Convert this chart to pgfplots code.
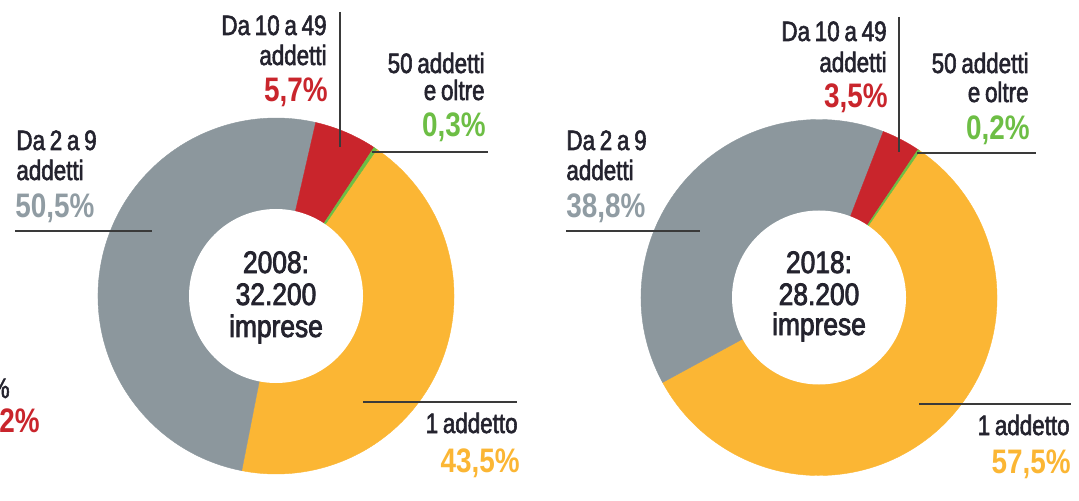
\documentclass[border=0pt]{standalone}
\usepackage{fontspec}
\setmainfont{Liberation Sans}[FakeStretch=0.82]
\newfontfamily\medfont{Liberation Sans}[FakeStretch=0.8, FakeBold=2]
\newfontfamily\ctrfont{Liberation Sans}[FakeStretch=0.85, FakeBold=2.5]
\usepackage{pgfplots}
\usepackage{pgfplotstable}
\pgfplotsset{compat=1.18}

\definecolor{cOr}{HTML}{FBB634}
\definecolor{cGr}{HTML}{8C979D}
\definecolor{cRe}{HTML}{C9252C}
\definecolor{cGn}{HTML}{6DBE45}
\definecolor{cTx}{HTML}{24232E}
\definecolor{cGt}{HTML}{909CA3}
\definecolor{cLn}{HTML}{3A3A3A}

% shares of enterprises by number of employees (percent)
\pgfplotstableread{
label value color
uno 43.5 cOr
due 50.5 cGr
dieci 5.7 cRe
cinquanta 0.3 cGn
}\dataA
\pgfplotstableread{
label value color
uno 57.5 cOr
due 38.8 cGr
dieci 3.5 cRe
cinquanta 0.2 cGn
}\dataB

\newcommand\donut[4]{% table, cx, cy, start angle
  \pgfplotsextra{%
    \coordinate (C) at (axis cs:#2,#3);
    \xdef\angA{#4}%
    \pgfplotstablegetrowsof{#1}%
    \pgfmathtruncatemacro\nlast{\pgfplotsretval-1}%
    \foreach \i in {0,...,\nlast}{%
      \pgfplotstablegetelem{\i}{value}\of{#1}\let\val\pgfplotsretval
      \pgfplotstablegetelem{\i}{color}\of{#1}\let\col\pgfplotsretval
      \pgfmathsetmacro\angB{\angA-3.6*\val}%
      \fill[fill=\col, draw=\col, line width=0.2pt] (C) -- ([shift={(\angA:89pt)}]C)
        arc[start angle=\angA, end angle=\angB, radius=89pt] -- cycle;
      \xdef\angA{\angB}%
    }%
    \fill[white] (C) circle[radius=43.5pt];
  }%
}

\newcommand\lblf{\medfont\fontsize{14}{15}\selectfont\spaceskip=0.17em\relax}
\newcommand\pctf{\bfseries\fontsize{17}{18}\selectfont}
\newcommand\ctrf{\ctrfont\fontsize{15.5}{16}\selectfont}

\begin{document}
\begin{tikzpicture}
\begin{axis}[x=0.5pt, y=0.5pt, xmin=0, xmax=1079, ymin=0, ymax=478,
  hide axis, clip=false]
\path (axis cs:0,0) rectangle (axis cs:1079,478);
\donut{\dataA}{276}{182}{55.5}
\donut{\dataB}{819}{180.5}{55.5}

% ---- left chart
\draw[cLn, line width=0.9pt] (axis cs:340,466) -- (axis cs:340,331);
\draw[cLn, line width=0.9pt] (axis cs:372,326) -- (axis cs:488,326);
\draw[cLn, line width=0.9pt] (axis cs:15,247) -- (axis cs:152,247);
\draw[cLn, line width=0.9pt] (axis cs:363,76) -- (axis cs:517,76);
\node[inner sep=0pt, text=cTx, anchor=base east, font=\lblf] at (axis cs:327,443) {Da 10 a 49};
\node[inner sep=0pt, text=cTx, anchor=base east, font=\lblf] at (axis cs:327,413) {addetti};
\node[inner sep=0pt, text=cRe, anchor=base east, font=\pctf] at (axis cs:328,376) {5,7\%};
\node[inner sep=0pt, text=cTx, anchor=base east, font=\lblf] at (axis cs:485,405) {50 addetti};
\node[inner sep=0pt, text=cTx, anchor=base east, font=\lblf] at (axis cs:485,378) {e oltre};
\node[inner sep=0pt, text=cGn, anchor=base east, font=\pctf] at (axis cs:486,341) {0,3\%};
\node[inner sep=0pt, text=cTx, anchor=base west, font=\lblf] at (axis cs:16,328) {Da 2 a 9};
\node[inner sep=0pt, text=cTx, anchor=base west, font=\lblf] at (axis cs:16,298) {addetti};
\node[inner sep=0pt, text=cGt, anchor=base west, font=\pctf] at (axis cs:15,260) {50,5\%};
\node[inner sep=0pt, text=cTx, anchor=base east, font=\lblf] at (axis cs:518,45) {1 addetto};
\node[inner sep=0pt, text=cOr, anchor=base east, font=\pctf] at (axis cs:520,6) {43,5\%};
\node[inner sep=0pt, text=cTx, anchor=base, font=\ctrf] at (axis cs:276,205) {2008:};
\node[inner sep=0pt, text=cTx, anchor=base, font=\ctrf] at (axis cs:276,173) {32.200};
\node[inner sep=0pt, text=cTx, anchor=base, font=\ctrf] at (axis cs:276,141) {imprese};
% cut-off remnants at the left edge (as in the reference)
\node[overlay, inner sep=0pt, text=cTx, anchor=base east, font=\lblf] at (axis cs:10,80) {\%};
\node[overlay, inner sep=0pt, text=cRe, anchor=base east, font=\pctf] at (axis cs:40,46) {,2\%};
% ---- right chart
\draw[cLn, line width=0.9pt] (axis cs:899,461) -- (axis cs:899,326);
\draw[cLn, line width=0.9pt] (axis cs:917,325) -- (axis cs:1036,325);
\draw[cLn, line width=0.9pt] (axis cs:566,247) -- (axis cs:700,247);
\draw[cLn, line width=0.9pt] (axis cs:919,74) -- (axis cs:1071,74);
\node[inner sep=0pt, text=cTx, anchor=base east, font=\lblf] at (axis cs:887,437) {Da 10 a 49};
\node[inner sep=0pt, text=cTx, anchor=base east, font=\lblf] at (axis cs:887,406) {addetti};
\node[inner sep=0pt, text=cRe, anchor=base east, font=\pctf] at (axis cs:888,370) {3,5\%};
\node[inner sep=0pt, text=cTx, anchor=base east, font=\lblf] at (axis cs:1029,405) {50 addetti};
\node[inner sep=0pt, text=cTx, anchor=base east, font=\lblf] at (axis cs:1029,376) {e oltre};
\node[inner sep=0pt, text=cGn, anchor=base east, font=\pctf] at (axis cs:1030,338) {0,2\%};
\node[inner sep=0pt, text=cTx, anchor=base west, font=\lblf] at (axis cs:566,328) {Da 2 a 9};
\node[inner sep=0pt, text=cTx, anchor=base west, font=\lblf] at (axis cs:566,298) {addetti};
\node[inner sep=0pt, text=cGt, anchor=base west, font=\pctf] at (axis cs:566,260) {38,8\%};
\node[inner sep=0pt, text=cTx, anchor=base east, font=\lblf] at (axis cs:1070,43) {1 addetto};
\node[inner sep=0pt, text=cOr, anchor=base east, font=\pctf] at (axis cs:1071,5) {57,5\%};
\node[inner sep=0pt, text=cTx, anchor=base, font=\ctrf] at (axis cs:819,205) {2018:};
\node[inner sep=0pt, text=cTx, anchor=base, font=\ctrf] at (axis cs:819,173) {28.200};
\node[inner sep=0pt, text=cTx, anchor=base, font=\ctrf] at (axis cs:819,143) {imprese};
\end{axis}
\end{tikzpicture}
\end{document}
